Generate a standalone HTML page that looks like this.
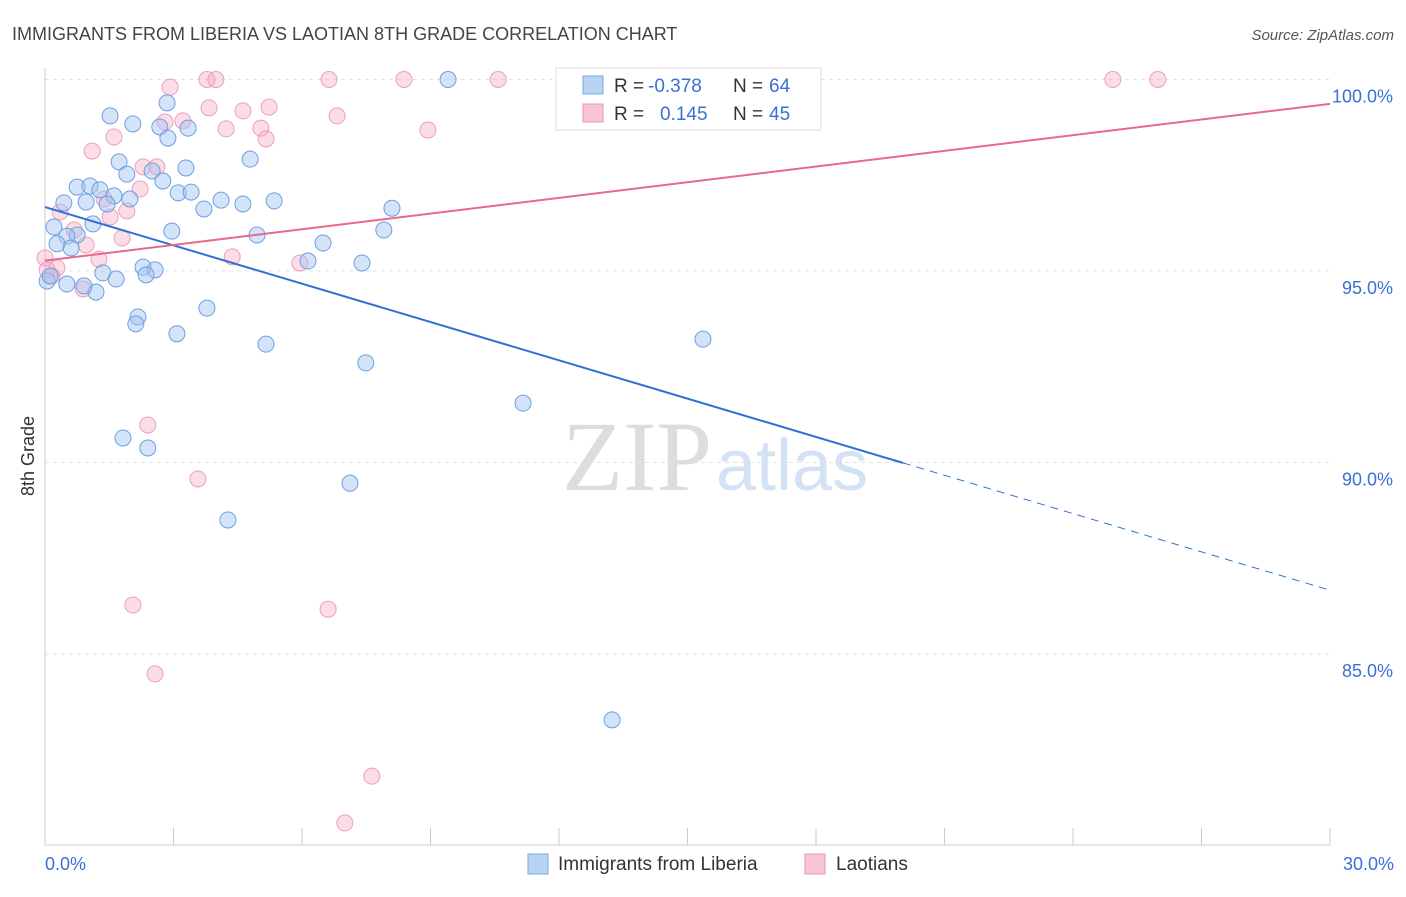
<!DOCTYPE html>
<html><head><meta charset="utf-8"><style>
body{margin:0;background:#fff;font-family:"Liberation Sans",sans-serif}
svg text{font-family:"Liberation Sans",sans-serif}
</style></head><body>
<svg id="c" width="1406" height="892" xmlns="http://www.w3.org/2000/svg">
<text x="12" y="40" font-size="18" fill="#444">IMMIGRANTS FROM LIBERIA VS LAOTIAN 8TH GRADE CORRELATION CHART</text>
<text x="1394" y="40" font-size="15" fill="#555" text-anchor="end" font-style="italic">Source: ZipAtlas.com</text>
<text x="34" y="456" font-size="18" fill="#333" transform="rotate(-90 34 456)" text-anchor="middle">8th Grade</text>
<text x="712" y="490" font-size="100" fill="#ddd" text-anchor="end" style="font-family:'Liberation Serif',serif">ZIP</text>
<text x="716" y="490" font-size="72" fill="#d4e2f5">atlas</text>
<g id="grid"></g><g id="marks"></g><g id="lines"></g>
<g>
<rect x="556" y="68" width="265" height="62" fill="#fff" stroke="#ddd"/>
<rect x="583" y="76" width="20" height="18" fill="#b8d3f5" stroke="#7aa7e6"/>
<text x="614" y="92" font-size="19" fill="#333">R = </text><text x="648" y="92" font-size="19" fill="#3a70d6">-0.378</text>
<text x="733" y="92" font-size="19" fill="#333">N = </text><text x="769" y="92" font-size="19" fill="#3a70d6">64</text>
<rect x="583" y="104" width="20" height="18" fill="#f9c4d4" stroke="#ec93b2"/>
<text x="614" y="120" font-size="19" fill="#333">R = </text><text x="660" y="120" font-size="19" fill="#3a70d6">0.145</text>
<text x="733" y="120" font-size="19" fill="#333">N = </text><text x="769" y="120" font-size="19" fill="#3a70d6">45</text>
</g>
<g>
<rect x="528" y="854" width="20" height="20" fill="#b8d3f5" stroke="#7aa7e6"/>
<text x="558" y="870" font-size="19" fill="#333">Immigrants from Liberia</text>
<rect x="805" y="854" width="20" height="20" fill="#f9c4d4" stroke="#ec93b2"/>
<text x="836" y="870" font-size="19" fill="#333">Laotians</text>
</g>
</svg>
<script>
const xTicks=[0,3,6,9,12,15,18,21,24,27,30];
const yTicks=[100,95,90,85];
const blueX=[9.41,1.52,2.85,2.05,2.68,3.34,2.87,1.73,4.79,1.91,2.50,3.29,2.75,0.75,1.05,1.28,1.61,3.11,3.41,4.11,4.62,5.35,3.71,1.98,0.96,0.44,1.45,8.10,7.91,4.95,2.96,1.12,0.21,0.75,0.51,0.28,0.61,6.49,6.14,7.40,2.29,2.57,2.36,1.35,1.66,0.05,0.12,0.51,1.19,0.91,3.78,2.17,2.12,3.08,5.16,15.36,7.49,11.16,1.82,2.40,7.12,4.27,13.24];
const blueY=[100.0,99.05,99.39,98.84,98.76,98.73,98.47,97.85,97.92,97.53,97.61,97.69,97.35,97.19,97.22,97.12,96.96,97.04,97.06,96.85,96.75,96.83,96.62,96.88,96.80,96.78,96.75,96.64,96.07,95.94,96.04,96.23,96.15,95.94,95.91,95.71,95.60,95.73,95.26,95.21,95.10,95.03,94.90,94.95,94.79,94.74,94.87,94.66,94.45,94.61,94.03,93.80,93.62,93.36,93.09,93.22,92.60,91.55,90.64,90.38,89.46,88.50,83.28];
const pinkX=[2.92,3.78,3.99,6.63,8.38,10.58,24.93,25.98,3.83,5.23,4.62,6.82,3.22,2.80,4.23,5.04,8.94,5.16,1.61,1.10,2.29,2.61,2.22,1.38,0.35,1.91,1.52,0.68,1.80,0.96,0,1.26,4.37,5.95,0.28,0.05,0.89,2.40,3.57,2.05,6.61,2.57,7.63,7.00,0.16];
const pinkY=[99.80,100,100,100,100,100,100,100,99.26,99.28,99.18,99.05,98.92,98.89,98.71,98.73,98.68,98.45,98.50,98.13,97.72,97.72,97.14,96.88,96.54,96.57,96.41,96.07,95.86,95.68,95.34,95.31,95.37,95.21,95.08,95.03,94.53,90.98,89.57,86.28,86.17,84.48,81.81,80.59,94.87];
const blueTrend=[96.67,-0.3335]; // intercept, slope
const pinkTrend=[95.27,0.1365];
const blueSolidEnd=20.03;
const X=v=>45+v/30*1285, Y=v=>79.5+(100-v)*38.3;
const NS="http://www.w3.org/2000/svg";
function mk(t,a,p){const e=document.createElementNS(NS,t);for(const k in a)e.setAttribute(k,a[k]);p.appendChild(e);return e;}
const g=document.getElementById('grid');
yTicks.forEach(t=>{
 const l=mk('line',{x1:45,x2:1330,y1:Y(t),y2:Y(t),stroke:'#e2e2e2','stroke-dasharray':'4,4'},g);
 
 
 const tx=mk('text',{x:1393,y:Y(t)+23,'font-size':18,fill:'#3a70d6','text-anchor':'end'},g);tx.textContent=t.toFixed(1)+'%';
 
 
});
mk('line',{x1:45,x2:45,y1:68,y2:845,stroke:'#ccc'},g);
mk('line',{x1:45,x2:1330,y1:845,y2:845,stroke:'#ccc'},g);
xTicks.forEach(t=>{const l=mk('line',{x1:X(t),x2:X(t),y1:828,y2:845,stroke:'#ccc'},g);
 
 });
[[0,'0.0%','start',45],[30,'30.0%','end',1394]].forEach(d=>{const tx=mk('text',{x:d[3],y:870,'font-size':18,fill:'#3a70d6','text-anchor':d[2]},g);tx.textContent=d[1];
 
 });
const m=document.getElementById('marks');
pinkX.forEach((x,i)=>{const c=mk('circle',{cx:X(x),cy:Y(pinkY[i]),r:8,fill:'rgba(246,170,196,0.4)',stroke:'#eba0ba','stroke-width':1},m);
 
 });
blueX.forEach((x,i)=>{const c=mk('circle',{cx:X(x),cy:Y(blueY[i]),r:8,fill:'rgba(160,195,240,0.45)',stroke:'#6d9fe2','stroke-width':1},m);
 
 });
const L=document.getElementById('lines');
const f=(tr,x)=>tr[0]+tr[1]*x;
let a=mk('line',{x1:X(0),y1:Y(f(blueTrend,0)),x2:X(blueSolidEnd),y2:Y(f(blueTrend,blueSolidEnd)),stroke:'#2f6fd6','stroke-width':2},L);


a=mk('line',{x1:X(blueSolidEnd),y1:Y(f(blueTrend,blueSolidEnd)),x2:X(30),y2:Y(f(blueTrend,30)),stroke:'#2f6fd6','stroke-width':1,'stroke-dasharray':'8,6'},L);


a=mk('line',{x1:X(0),y1:Y(f(pinkTrend,0)),x2:X(30),y2:Y(f(pinkTrend,30)),stroke:'#e8688f','stroke-width':2},L);


</script>
</body></html>
